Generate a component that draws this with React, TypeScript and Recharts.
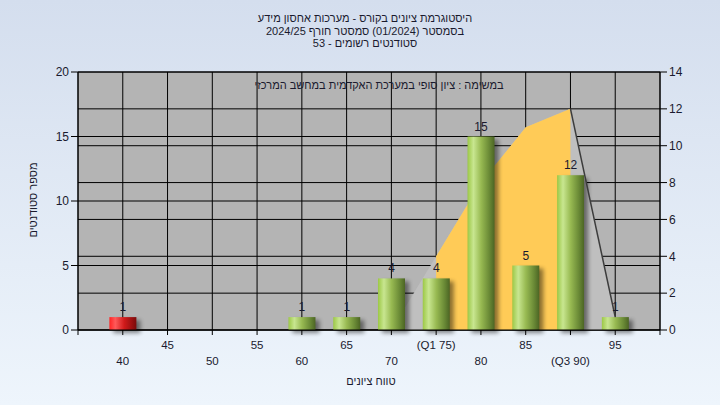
import React from 'react';
import {
  ComposedChart, Bar, Area, Line, XAxis, YAxis, CartesianGrid, LabelList,
} from 'recharts';

const scores = [40, 45, 50, 55, 60, 65, 70, 75, 80, 85, 90, 95];
const counts = [1, 0, 0, 0, 1, 1, 4, 4, 15, 5, 12, 1];
// distribution curve on the right axis
const curve = [null, null, null, null, null, null, 0, 4, 8, 11, 12, 0.7];
const iqrCurve = [null, null, null, null, null, null, null, 4, 8, 11, 12, null];
const tailLine = [null, null, null, null, null, null, null, null, null, null, 12, 0.7];
const tickLabels: Record<number, string> = { 75: '(Q1 75)', 90: '(Q3 90)' };

const xTicks = [35, ...scores, 100];
const leftTicks = [0, 5, 10, 15, 20];
const rightTicks = [0, 2, 4, 6, 8, 10, 12, 14];

const titleLines = [
  'היסטוגרמת ציונים בקורס - מערכות אחסון מידע',
  'בסמסטר  (01/2024)  סמסטר חורף 2024/25',
  'סטודנטים רשומים - 53',
];
const subTitle = 'במשימה : ציון סופי במערכת האקדמית במחשב המרכזי';

const data = scores.map((s, i) => ({
  score: s,
  count: counts[i],
  curve: curve[i],
  iqr: iqrCurve[i],
  tail: tailLine[i],
}));

const FONT = '"Liberation Sans", Arial, sans-serif';
const TEXT = '#1a1a2e';

const BarShape = (props: any) => {
  const { x, y, width, height, index } = props;
  if (!height || height <= 0) return null;
  const grad = index === 0 ? 'url(#redGrad)' : 'url(#greenGrad)';
  return (
    <g>
      <rect x={x + 4} y={y + 3} width={width} height={height} fill="#000" opacity={0.45} filter="url(#barShadow)" />
      <rect x={x} y={y} width={width} height={height} fill={grad} />
    </g>
  );
};

const XTick = (props: any) => {
  const { x, y, payload } = props;
  const v = payload.value;
  if (v < 40 || v > 95) return null;
  const row2 = (v / 5) % 2 === 0;
  const label = tickLabels[v] ?? String(v);
  return (
    <text x={x} y={y + (row2 ? 28 : 12)} textAnchor="middle" fontSize={11.5} fill={TEXT} fontFamily={FONT}>
      {label}
    </text>
  );
};

export default function App() {
  return (
    <div
      style={{
        position: 'absolute', left: 0, top: 0, width: 720, height: 405,
        background: 'linear-gradient(to bottom, #D4DEEE, #EEF5FC)',
        fontFamily: FONT, color: TEXT,
      }}
    >
      <svg width={0} height={0} style={{ position: 'absolute' }}>
        <defs>
          <linearGradient id="greenGrad" x1="0" y1="0" x2="1" y2="0">
            <stop offset="0%" stopColor="#9CC846" />
            <stop offset="22%" stopColor="#C8E690" />
            <stop offset="50%" stopColor="#98BA52" />
            <stop offset="80%" stopColor="#6A8A36" />
            <stop offset="100%" stopColor="#4C6524" />
          </linearGradient>
          <linearGradient id="redGrad" x1="0" y1="0" x2="1" y2="0">
            <stop offset="0%" stopColor="#FF2424" />
            <stop offset="22%" stopColor="#FF5A5A" />
            <stop offset="55%" stopColor="#D01A1A" />
            <stop offset="100%" stopColor="#7A0B0B" />
          </linearGradient>
          <filter id="barShadow" x="-50%" y="-50%" width="200%" height="200%">
            <feGaussianBlur stdDeviation="2" />
          </filter>
        </defs>
      </svg>

      <ComposedChart
        width={720}
        height={405}
        data={data}
        margin={{ top: 72, right: 0, bottom: 30, left: 0 }}
      >
        <CartesianGrid yAxisId="left" stroke="#000" strokeOpacity={1} fill="#B4B4B4" fillOpacity={1} />
        <CartesianGrid yAxisId="right" stroke="#000" vertical={false} />
        <XAxis
          dataKey="score"
          type="number"
          domain={[35, 100]}
          ticks={xTicks}
          interval={0}
          tick={<XTick />}
          tickSize={5}
          stroke="#000"
          height={45}
        />
        <YAxis
          yAxisId="left"
          domain={[0, 20]}
          ticks={leftTicks}
          width={78}
          tickSize={7}
          stroke="#000"
          tick={{ fill: TEXT, fontSize: 12, fontFamily: FONT }}
        />
        <YAxis
          yAxisId="right"
          orientation="right"
          domain={[0, 14]}
          ticks={rightTicks}
          width={60}
          tickSize={7}
          stroke="#000"
          tick={{ fill: TEXT, fontSize: 12, fontFamily: FONT }}
        />
        <Area yAxisId="right" dataKey="curve" type="linear" fill="#BFBFBF" fillOpacity={1} stroke="none" isAnimationActive={false} />
        <Area yAxisId="right" dataKey="iqr" type="linear" fill="#FFCB57" fillOpacity={1} stroke="none" isAnimationActive={false} />
        <Line yAxisId="right" dataKey="tail" type="linear" stroke="#3c3c3c" strokeWidth={1.5} dot={false} isAnimationActive={false} />
        <Bar yAxisId="left" dataKey="count" barSize={27} shape={<BarShape />} isAnimationActive={false}>
          <LabelList
            dataKey="count"
            position="top"
            offset={6}
            fill={TEXT}
            fontSize={12}
            fontFamily={FONT}
            formatter={(v: any) => (v ? v : '')}
          />
        </Bar>
      </ComposedChart>

      {titleLines.map((t, i) => (
        <div
          key={i}
          style={{
            position: 'absolute', left: 5, width: 720, top: 11 + i * 12.5,
            textAlign: 'center', fontSize: 11, lineHeight: '14px', direction: 'rtl',
          }}
        >
          {t}
        </div>
      ))}
      <div
        style={{
          position: 'absolute', left: 19, width: 720, top: 78,
          textAlign: 'center', fontSize: 11, lineHeight: '14px', direction: 'rtl',
        }}
      >
        {subTitle}
      </div>
      <div
        style={{
          position: 'absolute', left: 11, width: 720, top: 374,
          textAlign: 'center', fontSize: 11, lineHeight: '14px', direction: 'rtl',
        }}
      >
        טווח ציונים
      </div>
      <div
        style={{
          position: 'absolute', left: 33, top: 200, fontSize: 11, lineHeight: '14px',
          whiteSpace: 'nowrap', direction: 'rtl',
          transform: 'translate(-50%, -50%) rotate(-90deg)',
        }}
      >
        מספר סטודנטים
      </div>
    </div>
  );
}
